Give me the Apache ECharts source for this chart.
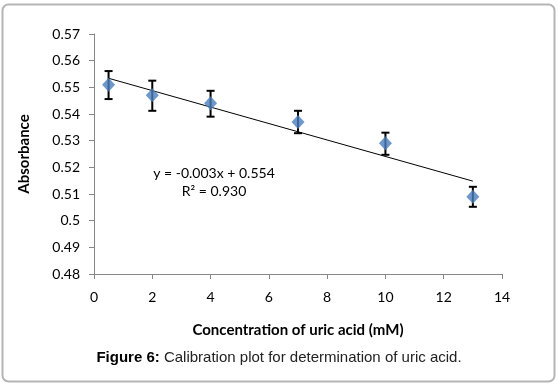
<!DOCTYPE html>
<html>
<head>
<meta charset="utf-8">
<script src="https://cdn.jsdelivr.net/npm/echarts@6/dist/echarts.min.js"></script>
<style>
	html, body { margin: 0; padding: 0; background: #fff; }
	#chart { width: 558px; height: 386px; }
</style>
</head>
<body>
<div id="chart"></div>
<script>
// 数据
var concentration = [0.5, 2, 4, 7, 10, 13];
var absorbance = [0.551, 0.547, 0.544, 0.537, 0.529, 0.509];
var errLow = [0.5456, 0.5412, 0.539, 0.5328, 0.5247, 0.5052];
var errHigh = [0.5561, 0.5525, 0.5487, 0.5412, 0.533, 0.5127];
var equationText = 'y = -0.003x + 0.554';
var r2Text = 'R² = 0.930';

var chart = echarts.init(document.getElementById('chart'));
var font = 'Lato, "Open Sans", sans-serif';

// 最小二乘拟合趋势线
function linearFit(xs, ys){
	var n = xs.length, mx = 0, my = 0, sxy = 0, sxx = 0;
	for(var i=0; i<n; i++){ mx += xs[i]; my += ys[i]; }
	mx /= n; my /= n;
	for(var j=0; j<n; j++){
		sxy += (xs[j]-mx)*(ys[j]-my);
		sxx += (xs[j]-mx)*(xs[j]-mx);
	}
	var k = sxy/sxx;
	return {k: k, b: my - k*mx};
}
var fit = linearFit(concentration, absorbance);
var xFirst = concentration[0], xLast = concentration[concentration.length-1];
var trendData = [[xFirst, fit.k*xFirst+fit.b], [xLast, fit.k*xLast+fit.b]];

var points = concentration.map(function(x, i){ return [x, absorbance[i]]; });
var bars = concentration.map(function(x, i){ return [x, errLow[i], errHigh[i]]; });

var option = {
	animation: false,
	grid: { left: 94, right: 56, top: 34, bottom: 112 },
	xAxis: {
		type: 'value', min: 0, max: 14, interval: 2,
		name: 'Concentration of uric acid (mM)',
		nameLocation: 'middle', nameGap: 49,
		nameTextStyle: { fontFamily: font, fontWeight: 'bold', fontSize: 15, color: '#000' },
		axisLine: { show: true, lineStyle: { color: '#868686', width: 1 } },
		axisTick: { show: true, length: 5, lineStyle: { color: '#868686' } },
		axisLabel: { fontFamily: font, fontSize: 14, color: '#000', margin: 16 },
		splitLine: { show: false }
	},
	yAxis: {
		type: 'value', min: 0.48, max: 0.57, interval: 0.01,
		name: 'Absorbance',
		nameLocation: 'middle', nameGap: 62,
		nameTextStyle: { fontFamily: font, fontWeight: 'bold', fontSize: 15, color: '#000' },
		axisLine: { show: true, lineStyle: { color: '#868686', width: 1 } },
		axisTick: { show: true, length: 5, lineStyle: { color: '#868686' } },
		axisLabel: { fontFamily: font, fontSize: 14, color: '#000', margin: 14 },
		splitLine: { show: false }
	},
	series: [
		{
			type: 'line',
			data: trendData,
			symbol: 'none',
			lineStyle: { color: '#000', width: 1 },
			z: 2
		},
		{
			type: 'custom',
			data: bars,
			renderItem: function(params, api){
				var x = api.value(0);
				var lo = api.coord([x, api.value(1)]);
				var hi = api.coord([x, api.value(2)]);
				var half = 4;
				var style = { stroke: '#000', lineWidth: 2 };
				return {
					type: 'group',
					children: [
						{ type: 'line', shape: { x1: lo[0], y1: lo[1], x2: hi[0], y2: hi[1] }, style: style },
						{ type: 'line', shape: { x1: lo[0]-half, y1: lo[1], x2: lo[0]+half, y2: lo[1] }, style: style },
						{ type: 'line', shape: { x1: hi[0]-half, y1: hi[1], x2: hi[0]+half, y2: hi[1] }, style: style }
					]
				};
			},
			z: 3
		},
		{
			type: 'scatter',
			data: points,
			symbol: 'diamond',
			symbolSize: [13, 14],
			itemStyle: { color: '#4a7ebb' },
			z: 4
		}
	],
	graphic: [
		{
			type: 'rect',
			shape: { x: 2.5, y: 4.5, width: 552, height: 377, r: 6 },
			style: { fill: 'none', stroke: '#b5b5b5', lineWidth: 2 },
			silent: true
		},
		{
			type: 'text', x: 214, y: 173,
			style: { text: equationText, fontFamily: font, fontSize: 14, fill: '#000', align: 'center', verticalAlign: 'middle' }
		},
		{
			type: 'text', x: 214, y: 191,
			style: { text: r2Text, fontFamily: font, fontSize: 14, fill: '#000', align: 'center', verticalAlign: 'middle' }
		},
		{
			type: 'text', x: 279, y: 358,
			style: {
				text: '{b|Figure 6:} Calibration plot for determination of uric acid.',
				align: 'center', verticalAlign: 'middle',
				rich: {
					b: { fontFamily: '"Liberation Sans", Arial, sans-serif', fontSize: 15, fontWeight: 'bold', fill: '#000' }
				},
				fontFamily: '"Liberation Sans", Arial, sans-serif', fontSize: 15, fill: '#222'
			}
		}
	]
};
chart.setOption(option);
</script>
</body>
</html>
